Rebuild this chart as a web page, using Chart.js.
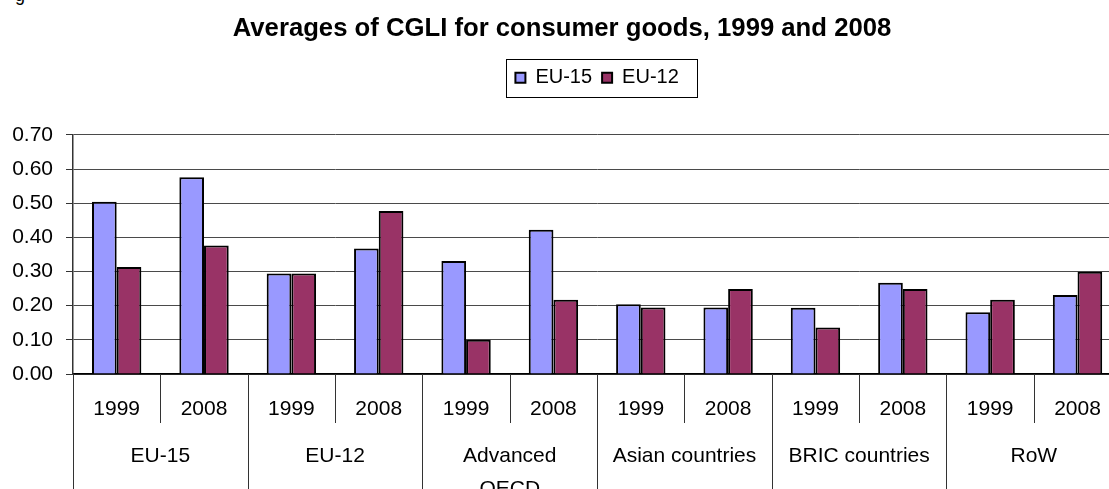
<!DOCTYPE html>
<html>
<head>
<meta charset="utf-8">
<script src="https://cdn.jsdelivr.net/npm/chart.js@4.4.1/dist/chart.umd.min.js"></script>
<style>
  html, body { margin: 0; padding: 0; background: #fff; overflow: hidden; }
  #wrap { position: relative; width: 1109px; height: 489px; overflow: hidden; }
  #cut { position: absolute; left: 15px; top: -14px; font: 18px/18px "Liberation Sans", Arial, sans-serif; }
  canvas { position: absolute; left: 0; top: 0; }
</style>
</head>
<body>
<div id="wrap">
  <div id="cut">g</div>
  <canvas id="cgliChart" width="1124" height="489"></canvas>
</div>
<script>
// groups of partner countries, each with two years
const groups = ['EU-15', 'EU-12', ['Advanced', 'OECD'], 'Asian countries', 'BRIC countries', 'RoW'];
const years = ['1999', '2008'];
const yearLabels = groups.flatMap(() => years);

// averages, one value per group/year
const eu15Values = [0.504, 0.576, 0.294, 0.367, 0.331, 0.422, 0.204, 0.195, 0.194, 0.267, 0.181, 0.231];
const eu12Values = [0.313, 0.376, 0.294, 0.477, 0.100, 0.217, 0.195, 0.249, 0.136, 0.249, 0.217, 0.299];

Chart.defaults.font.family = '"Liberation Sans", Arial, sans-serif';
Chart.defaults.font.size = 21;
Chart.defaults.color = '#000';

// vertical lines of the two-level category axis
const separators = {
    id: 'separators',
    afterDraw(chart) {
        const xs = chart.scales.x;
        const ctx = chart.ctx;
        const step = xs.width / yearLabels.length;
        ctx.save();
        ctx.strokeStyle = '#333';
        ctx.lineWidth = 1;
        for (let i = 0; i <= yearLabels.length; i++) {
            const x = Math.round(xs.left + i * step) + 0.5;
            const end = i % years.length === 0 ? chart.height : xs.bottom + 2;
            ctx.beginPath();
            ctx.moveTo(x, xs.top);
            ctx.lineTo(x, end);
            ctx.stroke();
        }
        ctx.restore();
    }
};

// frame round the legend
const legendFrame = {
    id: 'legendFrame',
    afterDraw(chart) {
        const hb = chart.legend.legendHitBoxes;
        if (!hb || !hb.length) return;
        const first = hb[0], last = hb[hb.length - 1];
        const x0 = Math.round(first.left - 9) + 0.5;
        const x1 = Math.round(last.left + last.width + 18) + 0.5;
        const y0 = Math.round(first.top - 9) + 0.5;
        const y1 = Math.round(first.top + first.height + 9) + 0.5;
        const ctx = chart.ctx;
        ctx.save();
        ctx.strokeStyle = '#000';
        ctx.lineWidth = 1;
        ctx.strokeRect(x0, y0, x1 - x0, y1 - y0);
        ctx.restore();
    }
};

new Chart(document.getElementById('cgliChart'), {
    type: 'bar',
    data: {
        labels: yearLabels,
        datasets: [
            { label: 'EU-15', data: eu15Values, backgroundColor: '#9999ff', borderColor: '#000', borderWidth: 2 },
            { label: 'EU-12', data: eu12Values, backgroundColor: '#993366', borderColor: '#000', borderWidth: 2 }
        ]
    },
    options: {
        responsive: false,
        animation: false,
        layout: { padding: 0 },
        datasets: { bar: { categoryPercentage: 0.565, barPercentage: 1 } },
        plugins: {
            title: {
                display: true,
                text: 'Averages of CGLI for consumer goods, 1999 and 2008',
                font: { size: 25.7, weight: 'bold' },
                padding: { top: 13, bottom: 14 }
            },
            legend: {
                position: 'top',
                fullSize: false,
                labels: { boxWidth: 10, boxHeight: 10, padding: 10, font: { size: 20 } }
            },
            // empty line that keeps the gap between legend and plot
            subtitle: { display: true, text: '', weight: 500, font: { size: 10, lineHeight: 3.7 }, padding: 0 },
            tooltip: { enabled: false }
        },
        scales: {
            x: {
                weight: 0,
                grid: { display: true, drawOnChartArea: false, drawTicks: false },
                border: { display: true, color: '#000', width: 1.5 },
                ticks: { autoSkip: false, maxRotation: 0, padding: 23 },
                afterFit: s => { s.height = 47; }
            },
            groups: {
                type: 'category',
                labels: groups,
                position: 'bottom',
                weight: 1,
                offset: true,
                grid: { display: false, drawTicks: false },
                border: { display: false },
                ticks: { autoSkip: false, maxRotation: 0, padding: 19, font: { size: 21, lineHeight: 1.55 } },
                afterFit: s => { s.height = 68; }
            },
            y: {
                min: 0,
                max: 0.7,
                ticks: { stepSize: 0.1, padding: 13, callback: v => v.toFixed(2) },
                grid: { color: '#4a4a4a', tickColor: '#333', tickLength: 7 },
                border: { display: true, color: '#333', width: 1.5 },
                afterFit: s => { s.width = 73; }
            }
        }
    },
    plugins: [separators, legendFrame]
});
</script>
</body>
</html>
